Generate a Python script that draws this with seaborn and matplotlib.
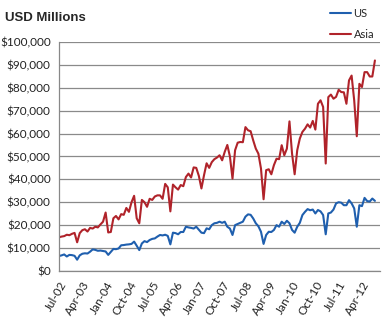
import matplotlib
matplotlib.use("Agg")
import matplotlib.pyplot as plt
import matplotlib.ticker as mticker
import seaborn as sns
import pandas as pd
import numpy as np

# Monthly values, Jul-02 .. Sep-12 (USD millions, thousands)
us_k = [6.5, 6.8, 7.2, 6.3, 7.0, 6.9, 6.6, 4.9, 6.8, 7.5,
        7.7, 7.6, 8.4, 9.4, 9.2, 8.8, 8.9, 8.7, 8.5, 7.0,
        8.3, 9.6, 9.5, 9.8, 11.2, 11.3, 11.5, 11.6, 11.8, 12.8,
        11.0, 9.1, 12.0, 13.0, 12.6, 13.5, 14.0, 14.2, 15.0, 15.7,
        15.5, 15.8, 15.3, 11.6, 16.7, 16.5, 16.0, 17.0, 17.0, 19.3,
        19.0, 18.8, 18.5, 19.3, 18.0, 16.7, 16.5, 18.6, 18.2, 20.0,
        20.8, 21.0, 21.5, 21.0, 21.5, 19.3, 18.5, 15.7, 20.0, 20.5,
        21.0, 21.5, 23.7, 24.7, 24.5, 22.9, 20.8, 19.5, 17.1, 11.8,
        15.7, 17.1, 17.0, 17.9, 20.0, 19.3, 21.5, 20.5, 21.9, 20.8,
        17.9, 16.7, 19.3, 21.0, 24.4, 25.8, 27.0, 26.5, 26.8, 25.1,
        26.6, 26.0, 24.4, 16.0, 25.1, 25.5, 26.8, 29.5, 30.0, 29.8,
        28.7, 28.7, 30.9, 29.5, 27.3, 19.3, 28.7, 28.3, 31.9, 30.5,
        30.3, 31.6, 30.6]
asia_k = [14.7, 15.0, 15.2, 15.8, 15.6, 16.2, 16.6, 12.5, 16.5, 17.8,
          18.2, 17.2, 18.8, 18.5, 19.3, 19.0, 20.3, 21.5, 25.5, 16.8,
          17.0, 23.0, 24.0, 22.5, 24.8, 24.5, 27.5, 25.8, 30.0, 32.8,
          23.0, 20.8, 31.0, 30.0, 28.0, 31.5, 31.0, 32.5, 33.0, 33.0,
          31.5, 38.0, 36.5, 26.0, 37.7, 36.5, 35.5, 37.5, 37.0, 41.0,
          42.5, 40.8, 45.2, 45.0, 41.5, 36.0, 41.8, 47.0, 45.0, 47.5,
          48.8, 49.5, 50.5, 48.3, 52.0, 55.0, 50.0, 40.3, 52.7, 56.0,
          56.3, 56.2, 62.8, 61.4, 61.0, 57.0, 53.4, 51.2, 44.7, 31.3,
          44.0, 44.4, 42.2, 46.2, 49.0, 48.8, 54.9, 50.5, 53.4, 65.3,
          51.2, 42.2, 52.7, 57.8, 60.7, 62.1, 64.0, 62.6, 65.5, 61.7,
          73.0, 74.5, 71.6, 46.9, 75.9, 77.0, 75.2, 76.0, 79.1, 78.1,
          78.0, 73.0, 83.2, 85.3, 74.5, 58.8, 81.7, 80.3, 86.8, 86.8,
          84.9, 84.9, 91.9]
series_names = ["US", "Asia"]
tick_labels = ["Jul-02", "Apr-03", "Jan-04", "Oct-04", "Jul-05", "Apr-06",
               "Jan-07", "Oct-07", "Jul-08", "Apr-09", "Jan-10", "Oct-10",
               "Jul-11", "Apr-12"]
tick_step = 9

n = len(us_k)
months = np.arange(n)
df = pd.DataFrame({
    "month": np.concatenate([months, months]),
    "value": np.concatenate([np.array(us_k), np.array(asia_k)]) * 1000,
    "series": [series_names[0]] * n + [series_names[1]] * n,
})

sns.set_style("white")
plt.rcParams["font.family"] = ["Lato", "DejaVu Sans"]

fig = plt.figure(figsize=(3.82, 3.30), dpi=100)
ax = fig.add_axes([0.1545, 0.179, 0.8405, 0.694])

sns.lineplot(data=df, x="month", y="value", hue="series",
             palette={"US": "#1f5fae", "Asia": "#b0232a"},
             linewidth=1.5, ax=ax, legend=False)

ax.set_xlim(0, n + 1)
ax.set_ylim(0, 100000)
ax.set_yticks(np.arange(0, 100001, 10000))
ax.yaxis.set_major_formatter(mticker.FuncFormatter(lambda v, p: "${:,.0f}".format(v)))
ax.set_xticks(np.arange(len(tick_labels)) * tick_step)
ax.set_xticklabels(tick_labels, rotation=60, ha="right", rotation_mode="anchor")
ax.tick_params(axis="both", labelsize=8.5, colors="#222222", length=3,
               width=0.8, direction="out", pad=3)
ax.tick_params(axis="x", color="#888888")
ax.tick_params(axis="y", color="#888888")
ax.grid(axis="y", color="#8a8a8a", linewidth=0.9)
ax.set_axisbelow(True)
for s in ["top", "right"]:
    ax.spines[s].set_visible(False)
for s in ["left", "bottom"]:
    ax.spines[s].set_color("#888888")
    ax.spines[s].set_linewidth(0.9)
ax.set_xlabel("")
ax.set_ylabel("")

fig.text(0.013, 0.945, "USD Millions", fontsize=9.5, fontweight="bold",
         family=["Liberation Sans", "DejaVu Sans"], va="center", ha="left")

from matplotlib.lines import Line2D
handles = [Line2D([], [], color="#1f5fae", linewidth=1.5),
           Line2D([], [], color="#b0232a", linewidth=1.5)]
leg = fig.legend(handles, series_names, loc="upper right",
                 bbox_to_anchor=(1.0, 1.0), frameon=False, fontsize=8,
                 handlelength=1.9, handletextpad=0.2, labelspacing=0.9,
                 borderaxespad=0.3)

fig.savefig("out.png", dpi=100)
